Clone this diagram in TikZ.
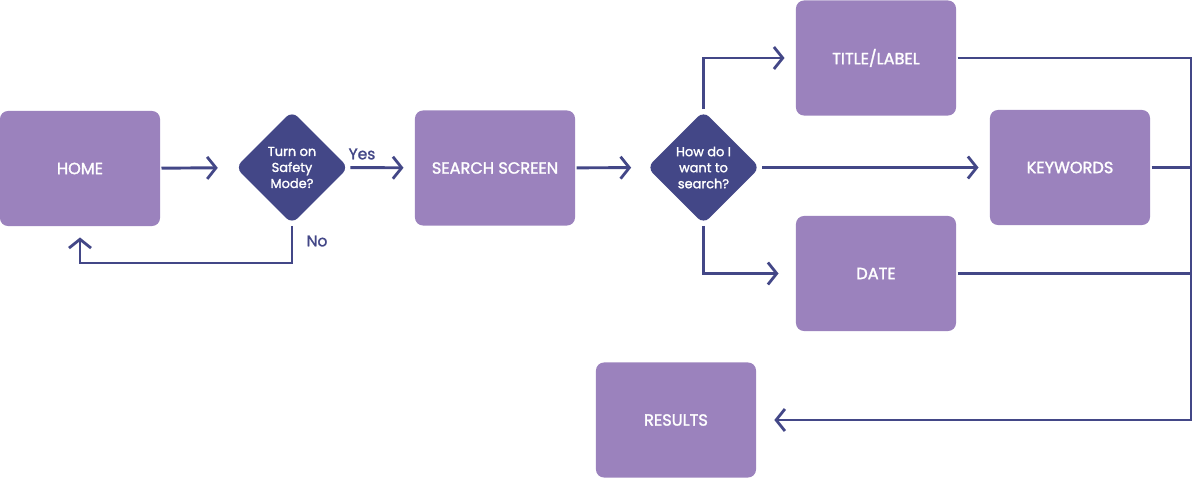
\documentclass[tikz,border=0pt]{standalone}
\usepackage{fontspec}
\setmainfont{Poppins}
\newfontfamily\boxfont{Poppins}[FakeBold=1.6]
\usetikzlibrary{positioning, arrows.meta, shapes.geometric}

\definecolor{boxpurple}{HTML}{9B82BD}
\definecolor{navy}{HTML}{434787}

\begin{document}
\begin{tikzpicture}[
    x=0.025cm, y=-0.025cm,
    >={Straight Barb[length=0.22cm, width=0.55cm, line width=2pt]},
    line width=2.1pt,
    font=\small,
    screen/.style={rectangle, fill=boxpurple, text=white, minimum width=4cm, minimum height=2.875cm, rounded corners=0.2cm, align=center, font=\boxfont\fontsize{11.5}{13}\selectfont},
    choice/.style={diamond, fill=navy, text=white, minimum width=2.85cm, minimum height=2.85cm, inner sep=0pt, rounded corners=0.2cm, align=center, font=\boxfont\fontsize{9.2}{11.4}\selectfont},
    flow/.style={draw=navy, ->},
    answer/.style={text=navy, font=\boxfont\fontsize{11}{12}\selectfont}
]
    \useasboundingbox (0,0) rectangle (1194,478);

    % Screens
    \node[screen] (home) at (80,168.5) {HOME};
    \node[screen] (search) at (495,168) {SEARCH SCREEN};
    \node[screen] (title) at (876,58) {TITLE/LABEL};
    \node[screen] (keywords) at (1070,167.5) {KEYWORDS};
    \node[screen] (date) at (876,273.5) {DATE};
    \node[screen] (results) at (676,420) {RESULTS};

    % Decisions
    \node[choice] (safety) at (292,167.5) {Turn on\\Safety\\Mode?};
    \node[choice] (how) at (703.5,167.5) {How do I\\want to\\search?};

    % Home -> safety mode
    \draw[flow, shorten >=0.4cm] (home) -- (safety);
    \draw[flow, shorten >=0.25cm] (safety) -- (search);
    \node[answer] (yes) at (362,154) {Yes};
    \draw[flow, shorten >=0.25cm] (safety.south) -- ++(0,37) -| (home.south);
    \node[answer] (no) at (317,241) {No};

    % Search -> how
    \draw[flow, shorten >=0.35cm] (search) -- (how);
    \draw[flow, shorten >=0.25cm] (how.north) |- (title.west);
    \draw[flow, shorten >=0.25cm] (how) -- (keywords);
    \draw[flow, shorten >=0.4cm] (how.south) |- (date.west);

    % Collect to results
    \coordinate (bus) at (1191,420);
    \draw[flow, shorten >=0.42cm] (title.east) -| (bus) -- (results.east);
    \draw[draw=navy] (keywords.east) -- (keywords.east -| bus);
    \draw[draw=navy] (date.east) -- (date.east -| bus);

\end{tikzpicture}
\end{document}
